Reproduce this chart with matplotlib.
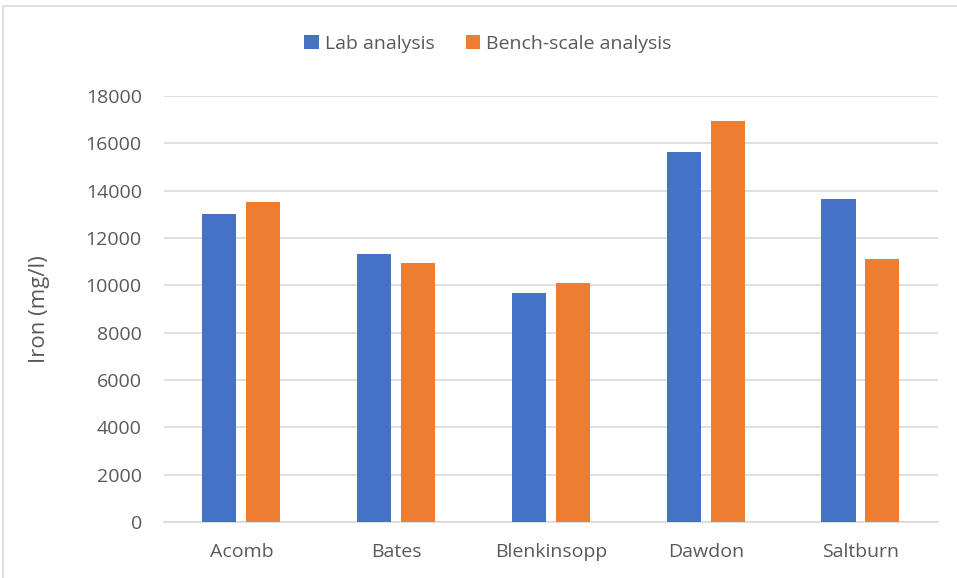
import numpy as np
import matplotlib.pyplot as plt
from matplotlib.patches import Rectangle

sites = ['Acomb', 'Bates', 'Blenkinsopp', 'Dawdon', 'Saltburn']
lab = [13000, 11330, 9680, 15650, 13650]
bench = [13510, 10950, 10090, 16940, 11120]

plt.rcParams['font.family'] = ['Open Sans', 'DejaVu Sans']
txt = '#595959'

fig = plt.figure(figsize=(9.57, 5.78), dpi=100)
ax = fig.add_axes([0.1714, 0.0969, 0.8086, 0.7370])

x = np.arange(len(sites))
w = 0.22
ax.bar(x - 0.142, lab, w, color='#4472C4', label='Lab analysis', zorder=3)
ax.bar(x + 0.142, bench, w, color='#ED7D31', label='Bench-scale analysis', zorder=3)

ax.set_xlim(-0.5, len(sites) - 0.5)
ax.set_ylim(0, 18000)
ax.set_yticks(np.arange(0, 18001, 2000))
ax.set_xticks(x)
ax.set_xticklabels(sites)
ax.tick_params(axis='both', length=0, labelsize=14, colors=txt)
ax.tick_params(axis='x', pad=15)
ax.tick_params(axis='y', pad=16)
ax.grid(axis='y', color='#D9D9D9', linewidth=1.2, zorder=0)
for s in ['top', 'right', 'left']:
    ax.spines[s].set_visible(False)
ax.spines['bottom'].set_color('#D9D9D9')
ax.spines['bottom'].set_linewidth(1.2)
ax.set_ylabel('Iron (mg/l)', fontsize=16, color=txt, labelpad=26)

ax.legend(loc='center', bbox_to_anchor=(488 / 957, 1 - 44 / 578), bbox_transform=fig.transFigure,
          ncol=2, frameon=False, fontsize=14, labelcolor=txt, handlelength=0.75, handleheight=0.75,
          handletextpad=0.3, columnspacing=1.6)

fig.patches.append(Rectangle((3 / 957, -0.01), 1.0, 1 - 6 / 578 + 0.01, transform=fig.transFigure,
                             fill=False, edgecolor='#D9D9D9', linewidth=1.2))

fig.savefig('out.png', dpi=100)
